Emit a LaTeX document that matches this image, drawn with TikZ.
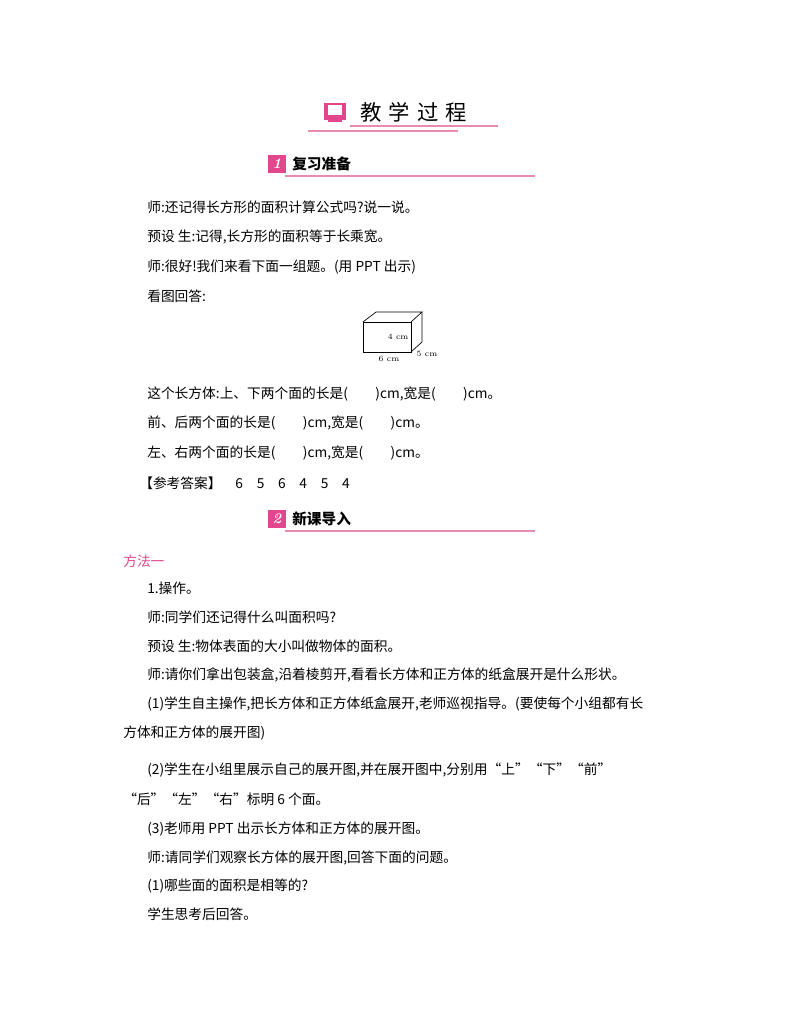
\documentclass[tikz,border=0pt]{standalone}
\usepackage{fontspec}
\newfontfamily\cjk{Noto Sans CJK SC}
\definecolor{pk}{RGB}{226,70,140}
\definecolor{pkl}{RGB}{232,140,180}
\begin{document}
\begin{tikzpicture}[x=0.75pt,y=-0.75pt,
 t/.style={anchor=west,inner sep=0pt,font=\cjk\fontsize{10.3pt}{12pt}\selectfont},
 sec/.style={anchor=west,inner sep=0pt,font=\cjk\bfseries\fontsize{11pt}{13pt}\selectfont},
 num/.style={fill=pk,text=white,inner sep=0pt,minimum width=13pt,minimum height=13pt,font=\bfseries\itshape\fontsize{11pt}{13pt}\selectfont},
 ul/.style={pkl,line width=0.9pt}]
\useasboundingbox (0,0) rectangle (800,1028);
% header
\node[draw=pk,fill=pk,line width=0.5pt,minimum width=16pt,minimum height=12pt,inner sep=0pt] (ic) at (335,111) {};
\node[fill=white,minimum width=11pt,minimum height=7pt,inner sep=0pt] (icin) at (335,110) {};
\draw[pk,line width=1.5pt] (328,121) -- (342,121);
\node[anchor=west,inner sep=0pt,font=\cjk\fontsize{16pt}{18pt}\selectfont] (title) at (360,112) {教\,\,学\,\,过\,\,程};
\draw[ul] (350,126) -- (498,126);
\draw[ul] (308,131) -- (458,131);
% section 1
\node[num] (n1) at (277,164) {1};
\node[sec] (s1) at (292,164) {复习准备};
\draw[ul] (285,176) -- (535,176);
\node[t] (a1) at (147,207) {师:还记得长方形的面积计算公式吗?说一说。};
\node[t] (a2) at (147,237) {预设\ 生:记得,长方形的面积等于长乘宽。};
\node[t] (a3) at (147,267) {师:很好!我们来看下面一组题。(用 PPT 出示)};
\node[t] (a4) at (147,296) {看图回答:};
% box
\draw[line width=0.5pt] (363,322) rectangle (411,352);
\draw[line width=0.5pt] (363,322) -- (376,312) -- (422,312) -- (411,322);
\draw[line width=0.5pt] (422,312) -- (422,342) -- (411,352);
\node[anchor=east,inner sep=1pt,font=\fontsize{6pt}{7pt}\selectfont] (l4) at (410,337) {4 cm};
\node[inner sep=0pt,font=\fontsize{6pt}{7pt}\selectfont] (l6) at (389,359) {6 cm};
\node[inner sep=0pt,font=\fontsize{6pt}{7pt}\selectfont] (l5) at (427,354) {5 cm};
\node[t] (b1) at (147,394) {这个长方体:上、下两个面的长是(\hspace{2em})cm,宽是(\hspace{2em})cm。};
\node[t] (b2) at (147,423) {前、后两个面的长是(\hspace{2em})cm,宽是(\hspace{2em})cm。};
\node[t] (b3) at (147,453) {左、右两个面的长是(\hspace{2em})cm,宽是(\hspace{2em})cm。};
\node[t] (b4) at (139,483) {【参考答案】\hspace{1em}6\hspace{1em}5\hspace{1em}6\hspace{1em}4\hspace{1em}5\hspace{1em}4};
% section 2
\node[num] (n2) at (277,519) {2};
\node[sec] (s2) at (292,519) {新课导入};
\draw[ul] (285,531) -- (535,531);
\node[t,text=pk] (m) at (123,561) {方法一};
\node[t] (c1) at (147,588) {1.操作。};
\node[t] (c2) at (147,617) {师:同学们还记得什么叫面积吗?};
\node[t] (c3) at (147,646) {预设\ 生:物体表面的大小叫做物体的面积。};
\node[t] (c4) at (147,675) {师:请你们拿出包装盒,沿着棱剪开,看看长方体和正方体的纸盒展开是什么形状。};
\node[t] (c5) at (147,704) {(1)学生自主操作,把长方体和正方体纸盒展开,老师巡视指导。(要使每个小组都有长};
\node[t] (c6) at (123,733) {方体和正方体的展开图)};
\node[t] (c7) at (147,770) {(2)学生在小组里展示自己的展开图,并在展开图中,分别用“上”“下”“前”};
\node[t] (c8) at (123,799) {“后”“左”“右”标明 6 个面。};
\node[t] (c9) at (147,829) {(3)老师用 PPT 出示长方体和正方体的展开图。};
\node[t] (c10) at (147,858) {师:请同学们观察长方体的展开图,回答下面的问题。};
\node[t] (c11) at (147,886) {(1)哪些面的面积是相等的?};
\node[t] (c12) at (147,914) {学生思考后回答。};
\end{tikzpicture}
\end{document}
